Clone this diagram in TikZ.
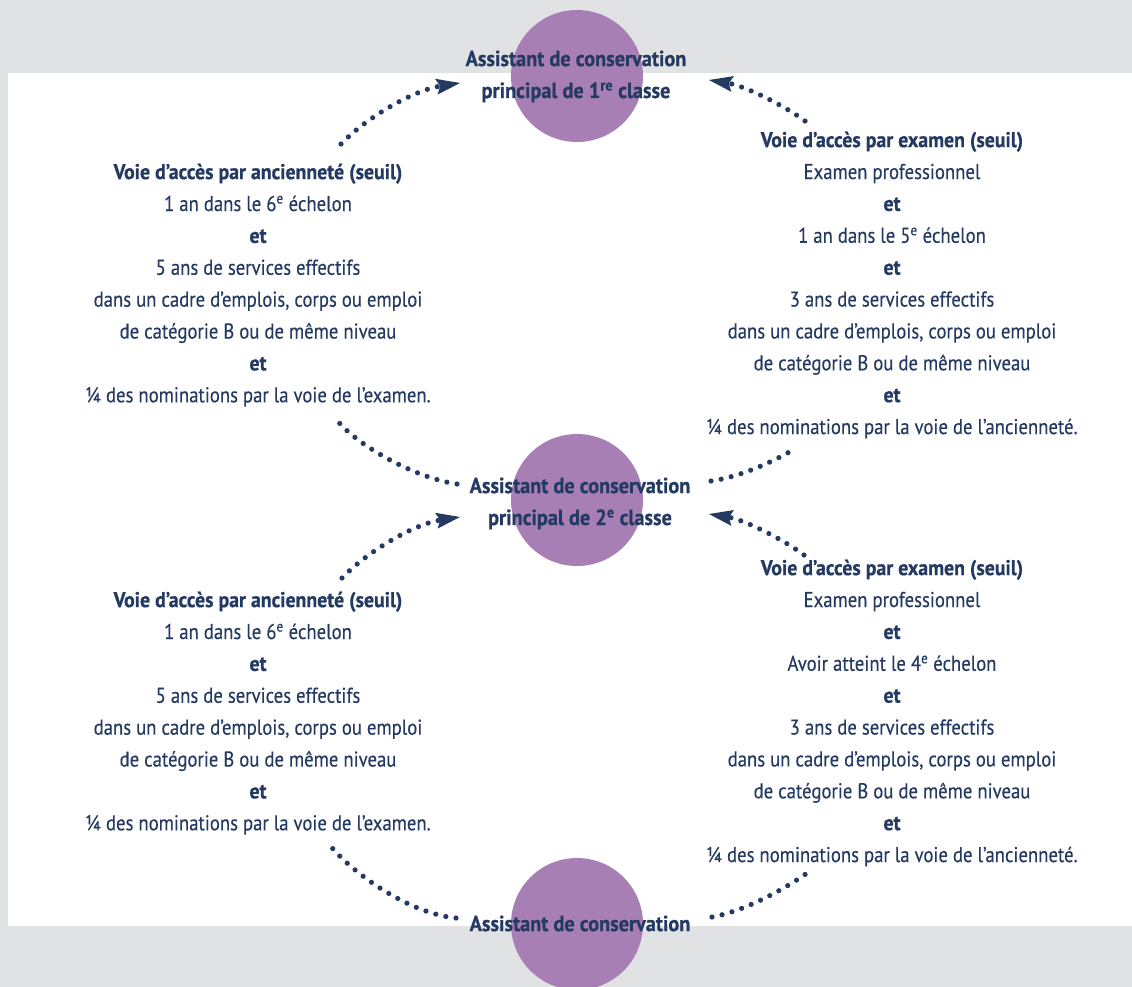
\documentclass[tikz,border=0pt]{standalone}
\usepackage{fontspec}
\setmainfont{PT Sans}[FakeStretch=0.874, FakeBold=0.25, BoldFeatures={FakeStretch=0.925, FakeBold=0.6}]
\usetikzlibrary{arrows.meta}
\definecolor{bggray}{HTML}{E1E2E4}
\definecolor{circ}{HTML}{A87FB4}
\definecolor{navy}{HTML}{243A63}
\tikzset{
  body/.style={text=navy, align=center, inner sep=0pt, anchor=north, font=\fontsize{21.5}{32}\selectfont},
  ttl/.style={body, font=\fontsize{22}{32}\selectfont\bfseries},
  disc/.style={circle, fill=circ, minimum size=132bp, inner sep=0pt},
  dotline/.style={navy, line width=5.2bp, line cap=round, dash pattern=on 0bp off 10.3bp},
  arr/.style={dotline, -{Stealth[length=24bp,width=16bp,inset=4bp,line width=0pt]}}
}
\begin{document}
\begin{tikzpicture}[x=1bp,y=-1bp]
\useasboundingbox (0,0) rectangle (1132,987);
\clip (0,0) rectangle (1132,987);
\fill[bggray] (0,0) rectangle (1132,987);
\fill[white] (8,73) rectangle (1132,926);
% circles
\node[disc] (c1) at (577,76) {};
\node[disc] (c2) at (577,500) {};
\node[disc] (c3) at (577,924) {};
% titles
\node[ttl] (t1) at (576,43.6) {\strut Assistant de conservation\\principal de 1\textsuperscript{re} classe};
\node[ttl] (t2) at (580,470.6) {\strut Assistant de conservation\\principal de 2\textsuperscript{e} classe};
\node[ttl] (t3) at (580,908.6) {\strut Assistant de conservation};
% text blocks
\node[body] (L1) at (258,156.6) {\strut\textbf{Voie d’accès par ancienneté (seuil)}\\
1 an dans le 6\textsuperscript{e} échelon\\
\textbf{et}\\
5 ans de services effectifs\\
dans un cadre d’emplois, corps ou emploi\\
de catégorie B ou de même niveau\\
\textbf{et}\\
¼ des nominations par la voie de l’examen.};
\node[body] (R1) at (892,124.6) {\strut\textbf{Voie d’accès par examen (seuil)}\\
Examen professionnel\\
\textbf{et}\\
1 an dans le 5\textsuperscript{e} échelon\\
\textbf{et}\\
3 ans de services effectifs\\
dans un cadre d’emplois, corps ou emploi\\
de catégorie B ou de même niveau\\
\textbf{et}\\
¼ des nominations par la voie de l’ancienneté.};
\node[body] (L2) at (258,584.6) {\strut\textbf{Voie d’accès par ancienneté (seuil)}\\
1 an dans le 6\textsuperscript{e} échelon\\
\textbf{et}\\
5 ans de services effectifs\\
dans un cadre d’emplois, corps ou emploi\\
de catégorie B ou de même niveau\\
\textbf{et}\\
¼ des nominations par la voie de l’examen.};
\node[body] (R2) at (892,552.6) {\strut\textbf{Voie d’accès par examen (seuil)}\\
Examen professionnel\\
\textbf{et}\\
Avoir atteint le 4\textsuperscript{e} échelon\\
\textbf{et}\\
3 ans de services effectifs\\
dans un cadre d’emplois, corps ou emploi\\
de catégorie B ou de même niveau\\
\textbf{et}\\
¼ des nominations par la voie de l’ancienneté.};
% connector end points
\coordinate (L1top) at (341,144);
\coordinate (t1L) at (460,83);
\coordinate (R1top) at (805,121);
\coordinate (t1R) at (709,80);
\coordinate (t2Lu) at (457,484);
\coordinate (L1bot) at (336,419);
\coordinate (t2Ru) at (711,481);
\coordinate (R1bot) at (796,448);
\coordinate (L2top) at (342,578);
\coordinate (t2L) at (460,517);
\coordinate (R2top) at (804,555);
\coordinate (t2R) at (709,514);
\coordinate (t3L) at (456,918);
\coordinate (L2bot) at (329,844);
\coordinate (t3R) at (712,917);
\coordinate (R2bot) at (810,871);
% connectors
\draw[arr] (L1top) .. controls (368,116) and (415,90) .. (t1L);
\draw[arr] (R1top) .. controls (785,106) and (745,86) .. (t1R);
\draw[dotline] (t2Lu) .. controls (415,478) and (356,445) .. (L1bot);
\draw[dotline] (t2Ru) .. controls (740,477) and (775,461) .. (R1bot);
\draw[arr] (L2top) .. controls (369,550) and (415,524) .. (t2L);
\draw[arr] (R2top) .. controls (784,540) and (745,520) .. (t2R);
\draw[dotline] (t3L) .. controls (405,913) and (347,868) .. (L2bot);
\draw[dotline] (t3R) .. controls (745,911) and (785,889) .. (R2bot);
\end{tikzpicture}
\end{document}
